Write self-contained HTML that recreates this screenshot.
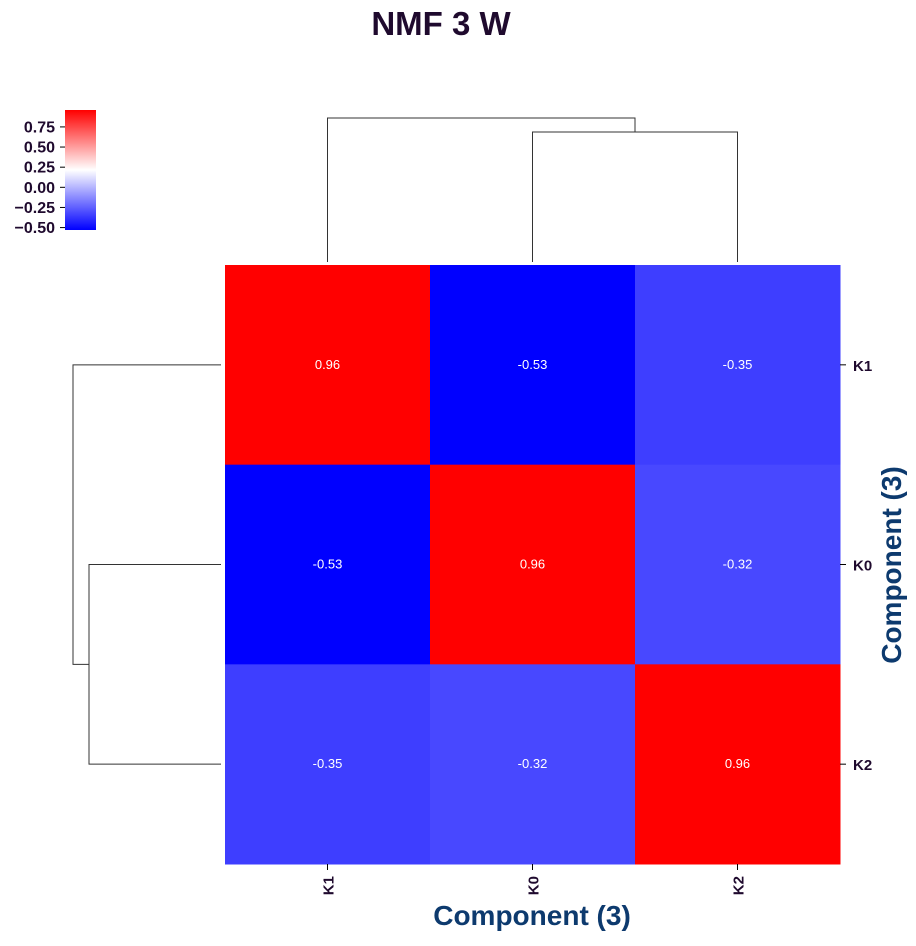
<!DOCTYPE html>
<html><head><meta charset="utf-8"><style>
body{margin:0;background:#fff;}
svg text{font-family:"Liberation Sans",sans-serif;}
</style></head><body>
<svg id="chart" width="916" height="941" viewBox="0 0 916 941" xmlns="http://www.w3.org/2000/svg">
<defs>
<linearGradient id="cbg" x1="0" y1="1" x2="0" y2="0">
<stop offset="0" stop-color="#0000ff"/><stop offset="0.5" stop-color="#ffffff"/><stop offset="1" stop-color="#ff0000"/>
</linearGradient>
</defs>
<text x="441" y="35" font-size="33" font-weight="bold" fill="#1f0a2e" text-anchor="middle">NMF 3 W</text>
<g id="cells"></g>
<g id="dendro" fill="none" stroke="#333" stroke-width="1"></g>
<g id="cbar"></g>
<text x="532" y="925" font-size="28" font-weight="bold" fill="#0d3a6e" text-anchor="middle">Component (3)</text>
<text transform="translate(901,565) rotate(-90)" font-size="28" font-weight="bold" fill="#0d3a6e" text-anchor="middle">Component (3)</text>
</svg>
<script>
const rowLabels = ["K1","K0","K2"];
const colLabels = ["K1","K0","K2"];
const values = [[0.96,-0.53,-0.35],[-0.53,0.96,-0.32],[-0.35,-0.32,0.96]];
const cbTicks = [0.75,0.5,0.25,0,-0.25,-0.5];
const vmin=-0.53, vmax=0.96;
(function(){
const NS="http://www.w3.org/2000/svg";
const svg=document.getElementById('chart');
const X0=225,X1=840,Y0=265,Y1=864;
const cw=(X1-X0)/colLabels.length, ch=(Y1-Y0)/rowLabels.length;
function color(v){
  let t=(v-vmin)/(vmax-vmin); t=Math.max(0,Math.min(1,t));
  let r,g,b;
  if(t<0.5){const k=Math.round(t*2*255);r=k;g=k;b=255;}else{const k=Math.round((1-t)*2*255);r=255;g=k;b=k;}
  return `rgb(${r},${g},${b})`;
}
function mk(tag,attrs,parent){const e=document.createElementNS(NS,tag);for(const k in attrs)e.setAttribute(k,attrs[k]);(parent||svg).appendChild(e);return e;}
const cells=document.getElementById('cells');
values.forEach((row,i)=>row.forEach((v,j)=>{
  const r=mk('rect',{x:X0+j*cw,y:Y0+i*ch,width:cw+0.5,height:ch+0.5,fill:color(v)},cells);
  
  
  const t=mk('text',{x:X0+(j+0.5)*cw,y:Y0+(i+0.5)*ch+4,'font-size':13,fill:'#fff','text-anchor':'middle'},cells);
  t.textContent=v.toFixed(2);
  
  
}));
colLabels.forEach((l,j)=>{
  const x=X0+(j+0.5)*cw;
  mk('line',{x1:x,x2:x,y1:Y1,y2:Y1+6,stroke:'#000'},cells);
  const t=mk('text',{transform:`translate(${x+6},${Y1+12}) rotate(-90)`,'font-size':15,'font-weight':'bold',fill:'#1f0a2e','text-anchor':'end'},cells);
  t.textContent=l;
  
  
});
rowLabels.forEach((l,i)=>{
  const y=Y0+(i+0.5)*ch;
  mk('line',{x1:X1,x2:X1+6,y1:y,y2:y,stroke:'#000'},cells);
  const t=mk('text',{x:X1+13,y:y+6,'font-size':15,'font-weight':'bold',fill:'#1f0a2e'},cells);
  t.textContent=l;
  
  
});
const d=document.getElementById('dendro');
const cx=j=>X0+(j+0.5)*cw, ry=i=>Y0+(i+0.5)*ch;
const colDen=mk('path',{d:`M${cx(1)},262V132H${cx(2)}V262 M${cx(0)},262V118H${(cx(1)+cx(2))/2}V132`},d);


const rowDen=mk('path',{d:`M221,${ry(1)}H89V${ry(2)}H221 M221,${ry(0)}H73V${(ry(1)+ry(2))/2}H89`},d);


const cb=document.getElementById('cbar');
const CBX=65,CBW=31,CBT=110,CBB=230;
const cbr=mk('rect',{x:CBX,y:CBT,width:CBW,height:CBB-CBT,fill:'url(#cbg)'},cb);


const cbY=v=>CBB-(v-vmin)/(vmax-vmin)*(CBB-CBT);
cbTicks.forEach(v=>{
  const y=cbY(v);
  mk('line',{x1:CBX-5,x2:CBX,y1:y,y2:y,stroke:'#000'},cb);
  const t=mk('text',{x:CBX-10,y:y+5.5,'font-size':16,'font-weight':'bold',fill:'#1f0a2e','text-anchor':'end'},cb);
  t.textContent=(v<0?'\u2212':'')+Math.abs(v).toFixed(2);
  
  
});
})();
</script>
</body></html>
